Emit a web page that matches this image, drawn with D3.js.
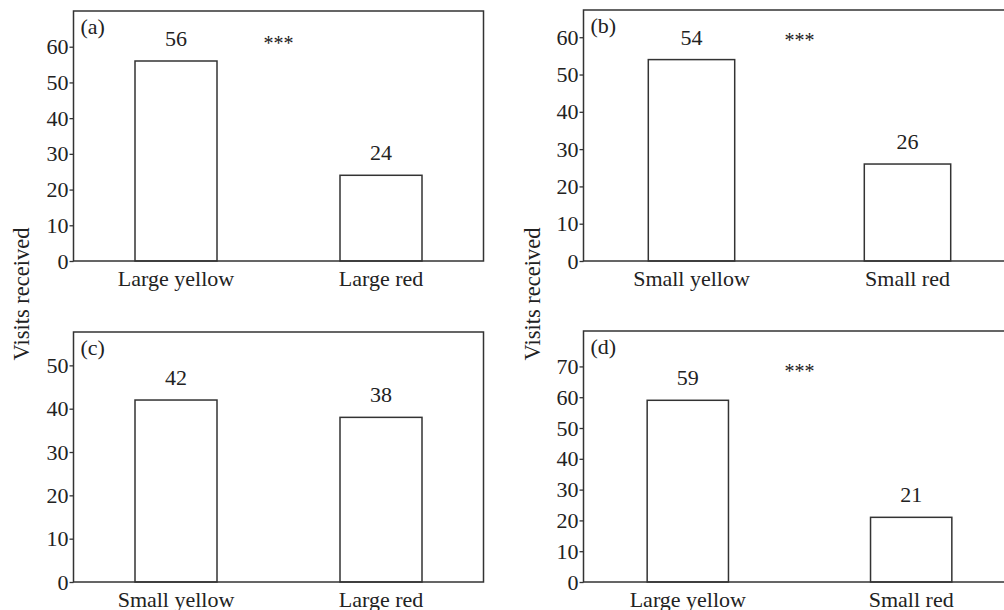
<!DOCTYPE html>
<html>
<head>
<meta charset="utf-8">
<script src="https://cdn.jsdelivr.net/npm/d3@7"></script>
<style>
  body { margin: 0; background: #fff; }
  svg text { font-family: "Liberation Serif", "Times New Roman", serif; fill: #222; }
</style>
</head>
<body>
<svg id="chart" width="1004" height="610"></svg>
<script>
// data
var panelLabels = ["(a)", "(b)", "(c)", "(d)"];
var categories = [
    ["Large yellow", "Large red"],
    ["Small yellow", "Small red"],
    ["Small yellow", "Large red"],
    ["Large yellow", "Small red"]
];
var visits = [[56, 24], [54, 26], [42, 38], [59, 21]];
var yTicks = [
    [0, 10, 20, 30, 40, 50, 60],
    [0, 10, 20, 30, 40, 50, 60],
    [0, 10, 20, 30, 40, 50],
    [0, 10, 20, 30, 40, 50, 60, 70]
];
var yMax = [70, 67.3, 57.7, 81.5];
var sigText = ["***", "***", "", "***"];
var sigAt = [61.7, 59.7, 0, 69.3];

var svg = d3.select("#chart");
var ink = "#333";
var fs = "22px";

// panel boxes
var boxes = [
    {x: 73.5, y: 11, w: 410, h: 250, pi: 0.6, po: 0.3},
    {x: 583.5, y: 10, w: 432, h: 251, pi: 0.6, po: 0.3},
    {x: 73.5, y: 332, w: 410, h: 250, pi: 0.6, po: 0.3},
    {x: 583.5, y: 331, w: 432, h: 251, pi: 0.636, po: 0.285}
];

boxes.forEach(function(b, i) {
    var x = d3.scaleBand()
        .domain(categories[i])
        .range([b.x, b.x + b.w])
        .paddingInner(b.pi)
        .paddingOuter(b.po);
    var y = d3.scaleLinear().domain([0, yMax[i]]).range([b.y + b.h, b.y]);

    var g = svg.append("g");

    // bars
    g.selectAll(".bar")
        .data(visits[i])
        .enter()
        .append("rect")
        .attr("class", "bar")
        .attr("x", function(d, j) { return x(categories[i][j]); })
        .attr("y", function(d) { return y(d); })
        .attr("width", x.bandwidth())
        .attr("height", function(d) { return y(0) - y(d); })
        .attr("fill", "#fff")
        .attr("stroke", ink)
        .attr("stroke-width", 1.5);

    // values above bars
    g.selectAll(".val")
        .data(visits[i])
        .enter()
        .append("text")
        .attr("class", "val")
        .attr("x", function(d, j) { return x(categories[i][j]) + x.bandwidth() / 2; })
        .attr("y", function(d) { return y(d) - 15; })
        .attr("text-anchor", "middle")
        .style("font-size", fs)
        .text(function(d) { return d; });

    // frame
    g.append("rect")
        .attr("x", b.x).attr("y", b.y)
        .attr("width", b.w).attr("height", b.h)
        .attr("fill", "none")
        .attr("stroke", ink)
        .attr("stroke-width", 1.5);

    // y axis
    var ya = g.append("g")
        .attr("transform", "translate(" + b.x + ",0)")
        .call(d3.axisLeft(y).tickValues(yTicks[i]).tickSize(4).tickSizeOuter(0).tickPadding(1));
    ya.select(".domain").remove();
    ya.selectAll("line").attr("stroke", ink).attr("stroke-width", 1.3);
    ya.selectAll("text").style("font-size", fs).attr("fill", "#222").attr("font-family", null);

    // x axis labels
    var xa = g.append("g")
        .attr("transform", "translate(0," + (b.y + b.h) + ")")
        .call(d3.axisBottom(x).tickSize(0).tickPadding(9));
    xa.select(".domain").remove();
    xa.selectAll("text").style("font-size", fs).attr("fill", "#222").attr("font-family", null);

    // panel letter
    g.append("text")
        .attr("x", b.x + 7)
        .attr("y", b.y + 23)
        .style("font-size", fs)
        .text(panelLabels[i]);

    // significance
    if (sigText[i]) {
        g.append("text")
            .attr("x", (x(categories[i][0]) + x(categories[i][1]) + x.bandwidth()) / 2)
            .attr("y", y(sigAt[i]))
            .attr("dy", "0.45em")
            .attr("text-anchor", "middle")
            .style("font-size", "20px")
            .text(sigText[i]);
    }
});

// y axis titles
[29, 540].forEach(function(px) {
    svg.append("text")
        .attr("transform", "translate(" + px + ",294) rotate(-90)")
        .attr("text-anchor", "middle")
        .style("font-size", "22.5px")
        .text("Visits received");
});
</script>
</body>
</html>
